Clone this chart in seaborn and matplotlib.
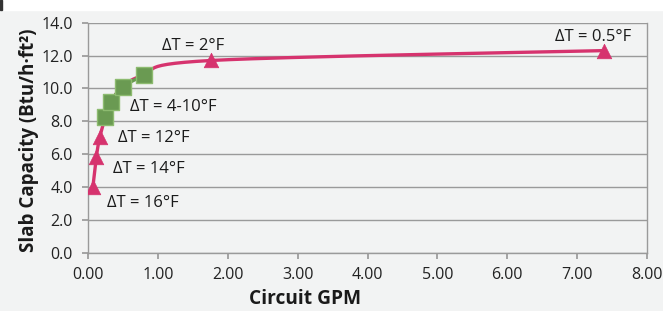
import numpy as np
import pandas as pd
import matplotlib.pyplot as plt
import matplotlib.patches as mpatches
import seaborn as sns

# data
gpm = [0.07, 0.12, 0.17, 0.25, 0.33, 0.50, 0.80, 1.76, 7.38]
capacity = [4.0, 5.85, 7.05, 8.25, 9.2, 10.1, 10.8, 11.7, 12.3]
marker_kind = ["tri", "tri", "tri", "sq", "sq", "sq", "sq", "tri", "tri"]

label_text = ["ΔT = 16°F", "ΔT = 14°F", "ΔT = 12°F", "ΔT = 4-10°F", "ΔT = 2°F", "ΔT = 0.5°F"]
label_x = [0.27, 0.36, 0.43, 0.60, 1.06, 6.68]
label_y = [3.0, 5.1, 7.0, 8.85, 12.6, 13.1]

x_ticks = [0, 1, 2, 3, 4, 5, 6, 7, 8]
y_ticks = [0, 2, 4, 6, 8, 10, 12, 14]

pink = "#d6336e"
green = "#6a9a52"
bg = "#f2f3f3"

df = pd.DataFrame({"gpm": gpm, "cap": capacity, "kind": marker_kind})

sns.set_theme(style="white")
plt.rcParams["font.family"] = ["Open Sans", "DejaVu Sans"]

fig = plt.figure(figsize=(6.63, 3.11), dpi=100, facecolor=bg)
fig.patches.append(mpatches.Rectangle((0, 0.967), 1, 0.033, transform=fig.transFigure,
                                      color="white", zorder=0))
fig.patches.append(mpatches.Rectangle((0, 0.967), 0.003, 0.033, transform=fig.transFigure,
                                      color="#333333", zorder=1))
ax = fig.add_axes([0.1327, 0.1875, 0.8432, 0.7395])
ax.set_facecolor(bg)


# smooth line like Excel's smoothed scatter (Catmull-Rom in pixel-ish space)
def smooth(xs, ys, sx=69.9, sy=16.4, n=30):
    p = np.column_stack([np.array(xs) * sx, np.array(ys) * sy])
    p = np.vstack([p[0], p, p[-1]])
    out = []
    for i in range(1, len(p) - 2):
        p0, p1, p2, p3 = p[i - 1], p[i], p[i + 1], p[i + 2]
        t = np.linspace(0, 1, n)[:, None]
        seg = 0.5 * ((2 * p1) + (-p0 + p2) * t + (2 * p0 - 5 * p1 + 4 * p2 - p3) * t ** 2
                     + (-p0 + 3 * p1 - 3 * p2 + p3) * t ** 3)
        out.append(seg)
    out = np.vstack(out)
    return out[:, 0] / sx, out[:, 1] / sy


cx, cy = smooth(gpm, capacity)
ax.plot(cx, cy, color=pink, lw=2.4, zorder=3, solid_capstyle="round")
sq = df[df.kind == "sq"]
gx, gy = smooth(sq.gpm.tolist(), sq.cap.tolist())
ax.plot(gx, gy, color=green, lw=2.4, zorder=4)

tri = df[df.kind == "tri"]
sns.scatterplot(data=tri, x="gpm", y="cap", marker="^", s=110, color=pink,
                edgecolor=pink, linewidth=0.5, ax=ax, zorder=5)
sns.scatterplot(data=sq, x="gpm", y="cap", marker="s", s=140, color=green,
                edgecolor="#8dbb70", linewidth=1.0, ax=ax, zorder=6)

for t, x, y in zip(label_text, label_x, label_y):
    ax.text(x, y, t, fontsize=12, color="#1a1a1a", va="center", ha="left", zorder=7)

ax.set_xlim(0, 8)
ax.set_ylim(0, 14)
ax.set_xticks(x_ticks)
ax.set_yticks(y_ticks)
ax.set_xticklabels([f"{v:.2f}" for v in x_ticks], fontsize=11.5, color="#222222")
ax.set_yticklabels([f"{v:.1f}" for v in y_ticks], fontsize=11.5, color="#222222")
ax.yaxis.grid(True, color="#9a9a9a", lw=1.0)
ax.set_axisbelow(True)
for side in ["left", "bottom", "right"]:
    ax.spines[side].set_color("#9a9a9a")
    ax.spines[side].set_linewidth(1.0)
ax.spines["top"].set_visible(False)
ax.tick_params(axis="both", which="major", length=4, color="#9a9a9a", direction="out",
               bottom=True, left=True)
ax.tick_params(axis="x", pad=6)
ax.tick_params(axis="y", pad=7)

ax.set_xlabel("Circuit GPM", fontsize=13.8, fontweight="bold", color="#1a1a1a")
ax.xaxis.set_label_coords(0.388, -0.16)
ax.set_ylabel("Slab Capacity (Btu/h·ft²)", fontsize=13.5, fontweight="bold", color="#1a1a1a")
ax.yaxis.set_label_coords(-0.088, 0.49)

fig.savefig("out.png", dpi=100, facecolor=bg)
